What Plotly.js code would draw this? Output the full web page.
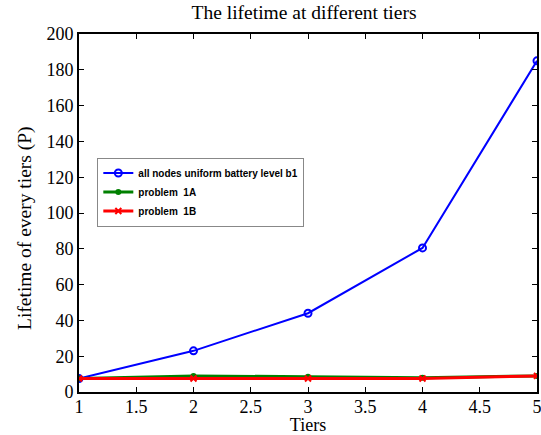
<!DOCTYPE html>
<html><head><meta charset="utf-8">
<script src="https://cdn.plot.ly/plotly-3.0.1.min.js"></script>
<style>body{margin:0;background:#fff}#c{width:541px;height:435px}</style>
</head><body><div id="c"></div>
<script>
const tiers = [1, 2, 3, 4, 5];
const uniformB1 = [7.5, 23, 44, 80.5, 185];
const problem1A = [7.5, 9, 8.5, 8, 9];
const problem1B = [7.5, 7.5, 7.5, 7.5, 9];
const seriesNames = ['all nodes uniform battery level b1', 'problem  1A', 'problem  1B'];
const xTicks = [1, 1.5, 2, 2.5, 3, 3.5, 4, 4.5, 5];
const yTicks = [0, 20, 40, 60, 80, 100, 120, 140, 160, 180, 200];

const traces = [
  {x: tiers, y: uniformB1, name: seriesNames[0], mode: 'lines+markers',
   line: {color: '#0000ff', width: 2}, marker: {symbol: 'circle-open', size: 7, color: '#0000ff', line: {width: 2}}},
  {x: tiers, y: problem1A, name: seriesNames[1], mode: 'lines+markers',
   line: {color: '#008000', width: 3}, marker: {symbol: 'circle', size: 6, color: '#008000'}},
  {x: tiers, y: problem1B, name: seriesNames[2], mode: 'lines+markers',
   line: {color: '#ff0000', width: 3}, marker: {symbol: 'x-thin-open', size: 6, color: '#ff0000', line: {width: 2, color: '#ff0000'}}}
];

const serif = 'Liberation Serif, Times New Roman, serif';
const layout = {
  width: 541, height: 435,
  margin: {l: 79, r: 4, t: 34, b: 43},
  paper_bgcolor: '#fff', plot_bgcolor: '#fff',
  title: {text: 'The lifetime at different tiers', font: {family: serif, size: 19.5, color: '#000'}, x: 0.562, xanchor: 'center', y: 0.988, yanchor: 'top'},
  xaxis: {range: [1, 5], tickmode: 'array', tickvals: xTicks, ticktext: xTicks.map(String),
          ticks: 'inside', ticklen: 5, tickcolor: '#000', mirror: 'ticks', ticklabeloverflow: 'allow',
          ticklabelstandoff: -3,
          showline: true, linecolor: '#000', linewidth: 2, showgrid: false, zeroline: false,
          tickfont: {family: serif, size: 18, color: '#000'},
          title: {text: 'Tiers', font: {family: serif, size: 18, color: '#000'}, standoff: 0}},
  yaxis: {range: [0, 200], tickmode: 'array', tickvals: yTicks, ticktext: yTicks.map(String),
          ticks: 'inside', ticklen: 5, tickcolor: '#000', mirror: 'ticks', ticklabeloverflow: 'allow',
          showline: true, linecolor: '#000', linewidth: 2, showgrid: false, zeroline: false,
          tickfont: {family: serif, size: 18, color: '#000'}},
  annotations: [{text: 'Lifetime of every tiers (P)', textangle: -90, xref: 'paper', yref: 'paper',
                 x: -0.118, y: 0.458, xanchor: 'center', yanchor: 'middle', showarrow: false,
                 font: {family: serif, size: 19.5, color: '#000'}}],
  showlegend: true,
  legend: {x: 0.04, y: 0.655, xanchor: 'left', yanchor: 'top', bgcolor: '#fff', bordercolor: '#888', borderwidth: 1,
           font: {family: 'Liberation Sans, Arial, sans-serif', size: 10, color: '#000', weight: 'bold'},
           tracegroupgap: 0, itemwidth: 30}
};
Plotly.newPlot('c', traces, layout, {displayModeBar: false, staticPlot: true});
</script></body></html>
